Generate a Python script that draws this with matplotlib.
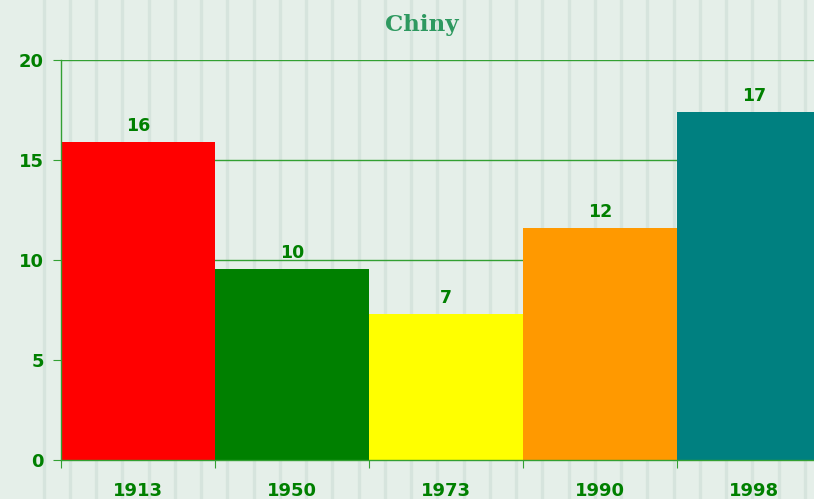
import matplotlib
matplotlib.use("Agg")
import matplotlib.pyplot as plt
import numpy as np

years = ["1913", "1950", "1973", "1990", "1998"]
values = [15.9, 9.55, 7.3, 11.6, 17.4]
labels = ["16", "10", "7", "12", "17"]
colors = ["#ff0000", "#008000", "#ffff00", "#ff9900", "#008080"]
yticks = [0, 5, 10, 15, 20]

W, H = 814, 499
fig = plt.figure(figsize=(W / 100, H / 100), dpi=100)
fig.patch.set_facecolor("#e5efe9")

# striped background
bg = fig.add_axes([0, 0, 1, 1], zorder=-10)
bg.set_xlim(0, W)
bg.set_ylim(0, H)
bg.axis("off")
for xs in np.arange(43.5, W, 26.25):
    bg.axvline(xs, color="#d6e4dd", lw=2.4)

green = "#008000"
line_green = "#33a033"

ax = fig.add_axes([61 / W, 39 / H, 770 / W, 400 / H])
ax.patch.set_alpha(0)
x = np.arange(len(years))
ax.bar(x, values, width=1.0, color=colors, zorder=2)
ax.set_xlim(-0.5, len(years) - 0.5)
ax.set_ylim(0, 20)
ax.set_yticks(yticks)
ax.set_yticklabels([str(t) for t in yticks])
ax.yaxis.grid(True, color=line_green, lw=1)
ax.set_axisbelow(True)

ax.set_xticks(np.arange(len(years) + 1) - 0.5)
ax.set_xticklabels([])
ax.set_xticks(x, minor=True)
ax.set_xticklabels(years, minor=True)
ax.tick_params(axis="x", which="major", direction="out", length=6, color=line_green)
ax.tick_params(axis="x", which="minor", length=0, pad=15.5, labelsize=13, labelcolor=green)
ax.tick_params(axis="y", direction="out", length=6, color=line_green, pad=6.5,
               labelsize=13, labelcolor=green)
for lab in ax.get_xticklabels(minor=True) + ax.get_yticklabels():
    lab.set_fontweight("bold")

for s in ["top", "right"]:
    ax.spines[s].set_visible(False)
for s in ["left", "bottom"]:
    ax.spines[s].set_color(line_green)
    ax.spines[s].set_linewidth(1)

for xi, v, lab in zip(x, values, labels):
    ax.annotate(lab, (xi, v), xytext=(0, 8), textcoords="offset points",
                ha="center", va="baseline", fontsize=12.5, fontweight="bold", color=green)

fig.text(422 / W, 1 - 31.5 / H, "Chiny", ha="center", va="baseline",
         fontsize=16.5, fontweight="bold", color="#2e9960", family="DejaVu Serif")

fig.savefig("out.png", dpi=100, facecolor=fig.get_facecolor())
